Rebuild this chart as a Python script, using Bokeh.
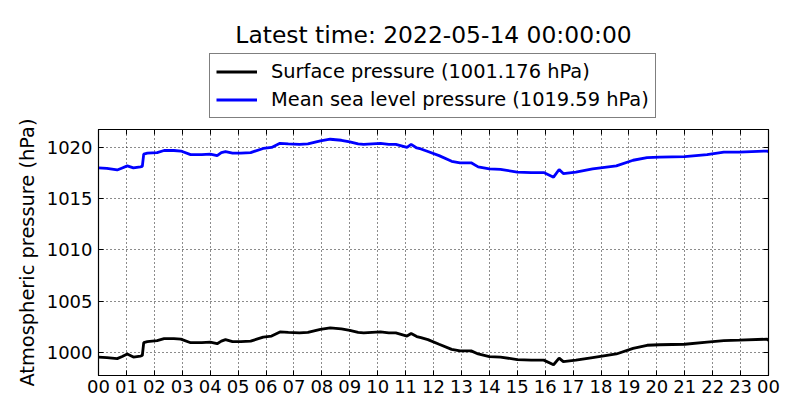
from bokeh.plotting import figure
from bokeh.layouts import column
from bokeh.models import (Range1d, FixedTicker, LinearAxis, Legend, LegendItem, Label)
from bokeh.embed import file_html
from bokeh.resources import INLINE

# ---- data ----
hours = [0.0, 0.3, 0.67, 0.85, 1.03, 1.25, 1.5, 1.57, 1.62, 1.75, 2.1, 2.35, 2.7, 2.95,
         3.3, 3.7, 4.0, 4.25, 4.4, 4.55, 4.8, 5.1, 5.45, 5.9, 6.2, 6.5, 6.8, 7.2, 7.5,
         7.95, 8.3, 8.7, 9.0, 9.3, 9.5, 9.8, 10.1, 10.4, 10.65, 11.05, 11.2, 11.4, 11.55,
         11.8, 12.2, 12.65, 12.95, 13.35, 13.6, 14.0, 14.4, 15.0, 15.5, 15.95, 16.3, 16.5,
         16.65, 17.1, 17.7, 18.55, 19.15, 19.65, 20.1, 21.0, 21.8, 22.4, 22.95, 23.95, 24.0]

mslp = [1018.0, 1017.95, 1017.8, 1018.0, 1018.2, 1018.0, 1018.1, 1018.15, 1019.35, 1019.45,
        1019.5, 1019.7, 1019.7, 1019.65, 1019.3, 1019.3, 1019.35, 1019.2, 1019.5, 1019.6,
        1019.45, 1019.45, 1019.5, 1019.9, 1020.0, 1020.4, 1020.35, 1020.3, 1020.35, 1020.65,
        1020.8, 1020.7, 1020.55, 1020.35, 1020.3, 1020.35, 1020.4, 1020.3, 1020.3, 1020.0,
        1020.3, 1019.95, 1019.85, 1019.6, 1019.2, 1018.65, 1018.5, 1018.5, 1018.1, 1017.9,
        1017.85, 1017.6, 1017.55, 1017.55, 1017.1, 1017.85, 1017.45, 1017.6, 1017.9, 1018.2,
        1018.75, 1019.0, 1019.05, 1019.1, 1019.3, 1019.55, 1019.55, 1019.65, 1019.59]

surface = [999.55, 999.5, 999.4, 999.6, 999.85, 999.55, 999.65, 999.7, 1000.95, 1001.05,
           1001.15, 1001.35, 1001.35, 1001.3, 1000.95, 1000.95, 1001.0, 1000.85, 1001.1, 1001.25,
           1001.05, 1001.05, 1001.1, 1001.5, 1001.6, 1002.0, 1001.95, 1001.9, 1001.95, 1002.25,
           1002.4, 1002.3, 1002.15, 1001.95, 1001.9, 1001.95, 1002.0, 1001.9, 1001.9, 1001.6,
           1001.85, 1001.55, 1001.45, 1001.25, 1000.8, 1000.3, 1000.15, 1000.15, 999.85, 999.6,
           999.55, 999.3, 999.25, 999.25, 998.8, 999.45, 999.1, 999.25, 999.5, 999.85,
           1000.4, 1000.7, 1000.75, 1000.8, 1001.0, 1001.15, 1001.2, 1001.3, 1001.176]

x_ticks = list(range(0, 25))
x_tick_labels = ["00", "01", "02", "03", "04", "05", "06", "07", "08", "09", "10", "11",
                 "12", "13", "14", "15", "16", "17", "18", "19", "20", "21", "22", "23", "00"]
y_ticks = [1000, 1005, 1010, 1015, 1020]

title_text = "Latest time: 2022-05-14 00:00:00"
label_surface = "Surface pressure (1001.176 hPa)"
label_mslp = "Mean sea level pressure (1019.59 hPa)"
y_label = "Atmospheric pressure (hPa)"

FONT = "DejaVu Sans"
W = 792
TOP_H = 119

# ---------------- main chart ----------------
p = figure(width=W, height=412 - TOP_H, output_backend="svg", toolbar_location=None,
           x_range=Range1d(0, 24), y_range=Range1d(997.75, 1021.75),
           min_border_left=98, min_border_right=24, min_border_top=10, min_border_bottom=37,
           background_fill_color="white", border_fill_color="white")

p.outline_line_color = "black"
p.outline_line_width = 1.2

r1 = p.line(hours, surface, line_color="black", line_width=2.8)
r2 = p.line(hours, mslp, line_color="blue", line_width=2.8)

for ax in [p.xaxis[0], p.yaxis[0]]:
    ax.major_tick_in = 5
    ax.major_tick_out = 0
    ax.minor_tick_line_color = None
    ax.axis_line_color = "black"
    ax.major_tick_line_color = "black"
    ax.major_label_text_font = FONT
    ax.major_label_text_font_size = "18px"
    ax.major_label_text_color = "black"

p.xaxis[0].ticker = FixedTicker(ticks=x_ticks)
p.xaxis[0].major_label_overrides = {t: l for t, l in zip(x_ticks, x_tick_labels)}
p.xaxis[0].major_label_standoff = 4
p.yaxis[0].ticker = FixedTicker(ticks=y_ticks)
p.yaxis[0].major_label_standoff = 6
p.yaxis[0].axis_label = y_label
p.yaxis[0].axis_label_text_font = FONT
p.yaxis[0].axis_label_text_font_size = "19.4px"
p.yaxis[0].axis_label_text_font_style = "normal"
p.yaxis[0].axis_label_text_color = "black"
p.yaxis[0].axis_label_standoff = 5

top = LinearAxis(ticker=FixedTicker(ticks=x_ticks), major_tick_in=5, major_tick_out=0,
                 minor_tick_line_color=None, major_label_text_font_size="0px",
                 major_label_text_color=None, major_label_standoff=0,
                 axis_line_color="black")
right = LinearAxis(ticker=FixedTicker(ticks=y_ticks), major_tick_in=5, major_tick_out=0,
                   minor_tick_line_color=None, major_label_text_font_size="0px",
                   major_label_text_color=None, major_label_standoff=0,
                   axis_line_color="black")
p.add_layout(top, "above")
p.add_layout(right, "right")

p.xgrid.ticker = FixedTicker(ticks=x_ticks)
p.ygrid.ticker = FixedTicker(ticks=y_ticks)
for g in [p.xgrid[0], p.ygrid[0]]:
    g.grid_line_color = "black"
    g.grid_line_dash = "1 3"
    g.grid_line_width = 1
    g.grid_line_alpha = 0.9

# ---------------- header: title + legend ----------------
# (its frame is aligned with the main frame by the column layout)
head = figure(width=W, height=TOP_H, output_backend="svg", toolbar_location=None,
              x_axis_type=None, y_axis_type=None, min_border=0,
              x_range=Range1d(0, 24), y_range=Range1d(0, 1),
              background_fill_color="white", border_fill_color="white")
head.outline_line_color = None
head.grid.visible = False

# legend keys: same series, lying outside this header's visible range (nothing shows)
k1 = head.line(hours, surface, line_color="black", line_width=2.8)
k2 = head.line(hours, mslp, line_color="blue", line_width=2.8)

legend = Legend(items=[LegendItem(label=label_surface, renderers=[k1]),
                       LegendItem(label=label_mslp, renderers=[k2])],
                location=(111, 1), orientation="vertical",
                label_text_font=FONT, label_text_font_size="19.4px", label_text_color="black",
                glyph_width=41, glyph_height=23, label_height=23, label_standoff=14,
                spacing=5, padding=6, margin=0,
                border_line_color="black", border_line_width=1.2,
                background_fill_color="white", background_fill_alpha=1)
head.add_layout(legend, "center")

title = Label(x=335, y=TOP_H - 42.3 + 8, x_units="screen", y_units="screen", text=title_text,
              text_align="center", text_baseline="alphabetic", text_font=FONT,
              text_font_size="23.4px", text_color="black")
head.add_layout(title)

layout = column(head, p, spacing=0)
open("out.html", "w").write(file_html(layout, INLINE))
